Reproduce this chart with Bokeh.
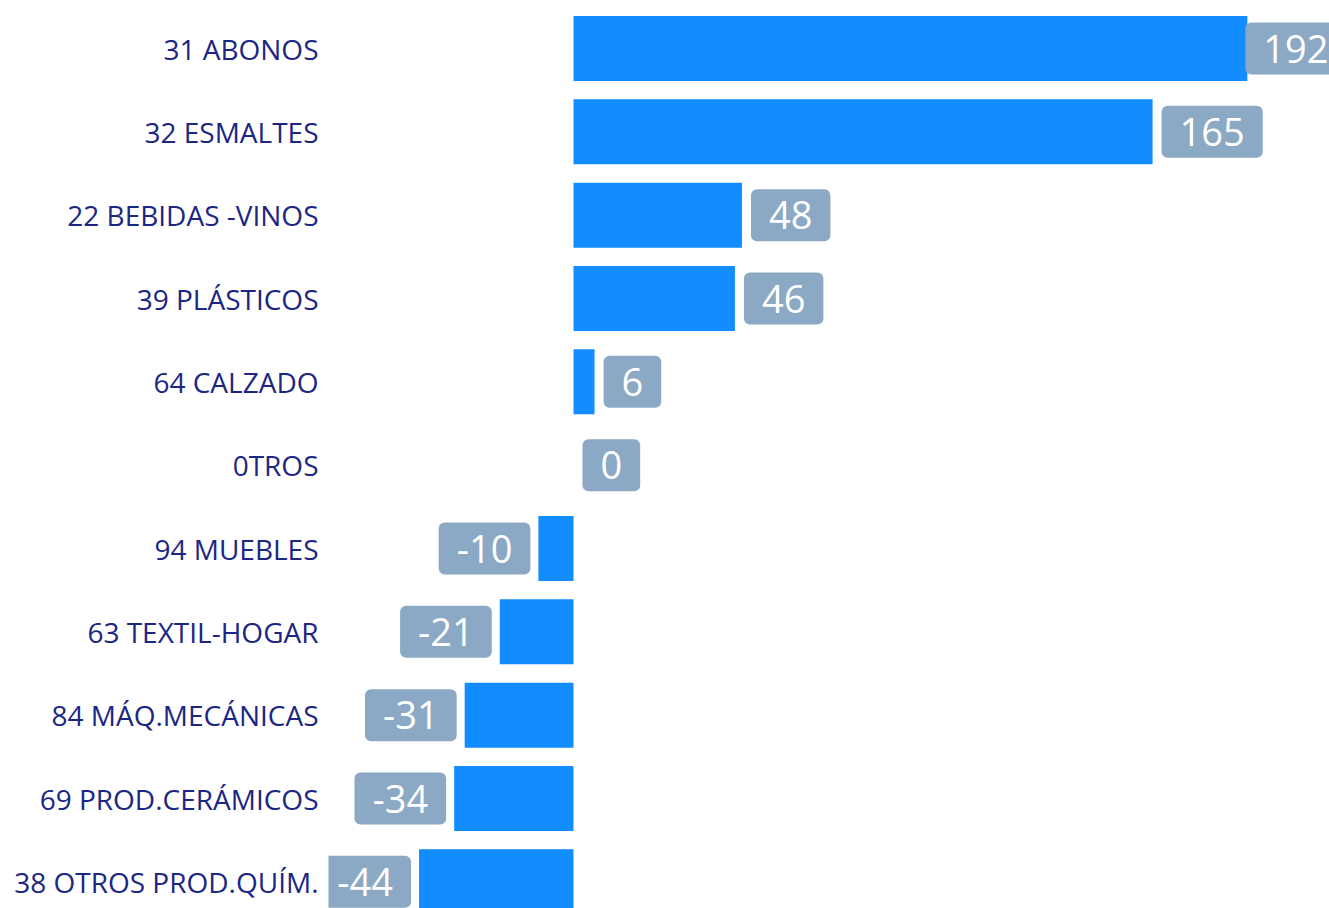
from bokeh.plotting import figure
from bokeh.models import ColumnDataSource, Range1d, FixedTicker
from bokeh.core.properties import value
from bokeh.embed import file_html
from bokeh.resources import INLINE

categories = ["31 ABONOS", "32 ESMALTES", "22 BEBIDAS -VINOS", "39 PLÁSTICOS",
              "64 CALZADO", "0TROS", "94 MUEBLES", "63 TEXTIL-HOGAR",
              "84 MÁQ.MECÁNICAS", "69 PROD.CERÁMICOS", "38 OTROS PROD.QUÍM."]
values = [192, 165, 48, 46, 6, 0, -10, -21, -31, -34, -44]

BAR = "#118DFF"
BOX = "#8BA9C4"
NAVY = "#1C2683"
FONT = "Open Sans"

n = len(categories)
rows = list(range(n))
labels = [str(v) for v in values]
vmax = max(values)

src = ColumnDataSource(dict(y=rows, v=values, lab=labels))

pos_idx = [i for i in rows if values[i] >= 0]
neg_idx = [i for i in rows if values[i] < 0]
pos = ColumnDataSource(dict(
    x=[values[i] for i in pos_idx], y=[rows[i] for i in pos_idx],
    t=[labels[i] for i in pos_idx],
    off=[(-2 if values[i] == vmax else 9) for i in pos_idx]))
neg = ColumnDataSource(dict(
    x=[values[i] for i in neg_idx], y=[rows[i] for i in neg_idx],
    t=[labels[i] for i in neg_idx]))

p = figure(width=1329, height=908, output_backend="svg", toolbar_location=None,
           x_range=Range1d(-69.8, 215.4), y_range=Range1d(n - 1 + 0.32, -0.48),
           min_border_left=328, min_border_right=0, min_border_top=8,
           min_border_bottom=0)

p.hbar(y="y", left=0, right="v", height=0.78, fill_color=BAR, line_color=None,
       source=src)

common = dict(text_font=value(FONT), text_font_size="38px", text_color="white",
              text_baseline="middle", background_fill_color=BOX,
              border_radius=6, padding=dict(left=18, right=18, top=12, bottom=12))
p.text(x="x", y="y", text="t", source=pos, x_offset="off", anchor="center_left",
       text_align="left", **common)
p.text(x="x", y="y", text="t", source=neg, x_offset=-8, anchor="center_right",
       text_align="right", **common)

p.xaxis.visible = False
ya = p.yaxis[0]
ya.ticker = FixedTicker(ticks=rows)
ya.major_label_overrides = {i: c for i, c in enumerate(categories)}
ya.major_label_text_font = FONT
ya.major_label_text_font_size = "28px"
ya.major_label_text_color = NAVY
ya.major_label_standoff = 4
ya.major_tick_line_color = None
ya.minor_tick_line_color = None
ya.axis_line_color = None
p.grid.visible = False
p.outline_line_color = None

open("out.html", "w").write(file_html(p, INLINE))
